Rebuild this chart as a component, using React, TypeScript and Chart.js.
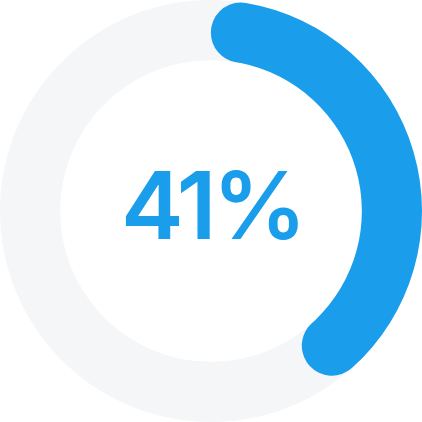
import { useEffect, useRef } from "react";
import { Chart, registerables } from "chart.js";

Chart.register(...registerables);

// gauge value (percent) and the rest of the ring
const labels = ["Done", "Remaining"];
const values = [41, 59];
const colors = ["#1a9eec", "rgba(0,0,0,0)"];
const trackColor = "#f4f6f8";

// draws the light grey track behind the arc, using the arc's own geometry
const trackPlugin = {
  id: "track",
  beforeDatasetsDraw(chart: any) {
    const arc = chart.getDatasetMeta(0).data[0];
    if (!arc) return;
    const { x, y, innerRadius, outerRadius } = arc;
    const ctx = chart.ctx;
    ctx.save();
    ctx.beginPath();
    ctx.arc(x, y, outerRadius, 0, Math.PI * 2);
    ctx.arc(x, y, innerRadius, Math.PI * 2, 0, true);
    ctx.closePath();
    ctx.fillStyle = trackColor;
    ctx.fill();
    ctx.restore();
  },
};

export default function App() {
  const chartRef = useRef<HTMLCanvasElement | null>(null);

  useEffect(() => {
    if (!chartRef.current) return;
    const ctx = chartRef.current.getContext("2d");
    if (!ctx) return;

    const chart = new Chart(ctx, {
      type: "doughnut",
      data: {
        labels,
        datasets: [
          {
            data: values,
            backgroundColor: colors,
            borderWidth: 0,
            borderRadius: [30, 0],
          },
        ],
      },
      options: {
        responsive: true,
        maintainAspectRatio: false,
        animation: false,
        cutout: "71.5%",
        events: [],
        layout: { padding: 0 },
        plugins: {
          legend: { display: false },
          tooltip: { enabled: false },
        },
      },
      plugins: [trackPlugin],
    });

    return () => chart.destroy();
  }, []);

  return (
    <div style={{ position: "fixed", left: 0, top: 0, width: 422, height: 422, background: "#fff" }}>
      <canvas ref={chartRef}></canvas>
      <div
        style={{
          position: "absolute",
          left: 1,
          top: -6,
          width: 422,
          height: 422,
          display: "flex",
          alignItems: "center",
          justifyContent: "center",
          fontFamily: "Inter, sans-serif",
          fontWeight: 600,
          fontSize: 94,
          letterSpacing: -4,
          color: "#1a9eec",
          pointerEvents: "none",
        }}
      >
        41%
      </div>
    </div>
  );
}
